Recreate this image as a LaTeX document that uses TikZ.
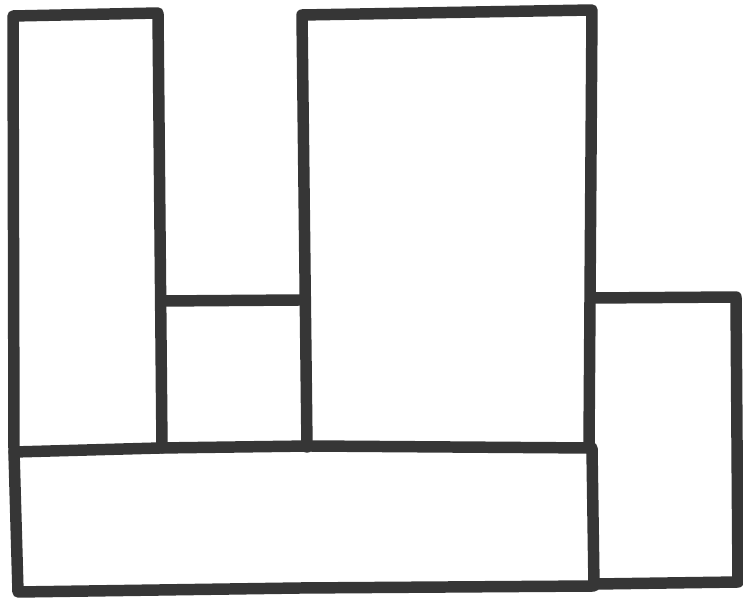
\documentclass[tikz,border=0pt]{standalone}
\usepackage{tikz}
\definecolor{inkgray}{HTML}{363636}
\tikzset{penline/.style={draw=inkgray, line width=9.8pt, line join=round, line cap=round}}

\begin{document}
\begin{tikzpicture}[x=0.03cm, y=-0.03cm]
\useasboundingbox (0,0) rectangle (743,599);
% tall left box
\draw[penline] (14,452) -- (13,16) -- (158,13) -- (162,448);
% small middle box
\draw[penline] (161,301) -- (300,300);
% tall right box
\draw[penline] (307,447) -- (302,15) -- (592,10) -- (589,446);
% long bottom box
\draw[penline] (14,452) -- (160,448) -- (310,446) -- (592,448) -- (594,586) -- (300,588) -- (18,592) -- cycle;
% small right box
\draw[penline] (592,298) -- (736,297) -- (738,582) -- (596,584);
\end{tikzpicture}
\end{document}
